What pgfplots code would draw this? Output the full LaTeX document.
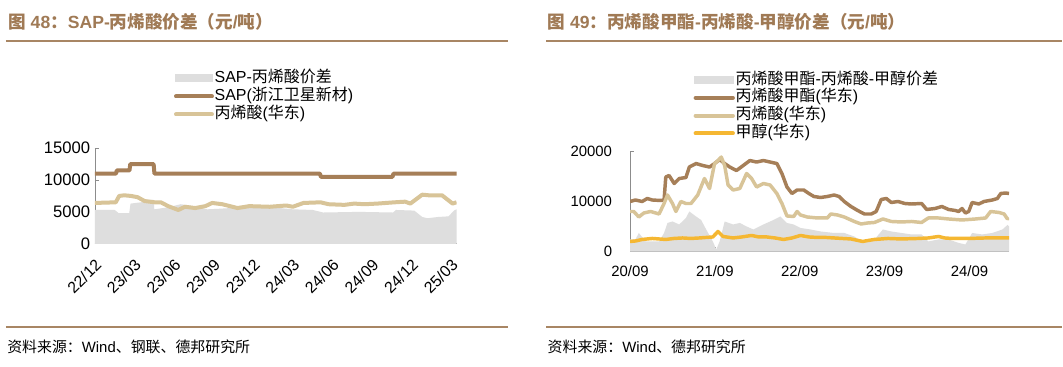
\documentclass[border=0pt]{standalone}
\usepackage{pgfplots}
\pgfplotsset{compat=1.18}
\usepackage{fontspec}
\setmainfont{Liberation Sans}
\newfontfamily\cjk{Noto Sans CJK SC}
\definecolor{darkb}{RGB}{166,127,88}
\definecolor{lightb}{RGB}{216,196,152}
\definecolor{meth}{RGB}{245,183,50}
\definecolor{areag}{RGB}{222,222,222}
\definecolor{titlec}{RGB}{160,122,85}
\definecolor{rulec}{RGB}{168,134,100}
\definecolor{axisg}{RGB}{140,140,140}

\pgfplotstableread{
x y
0 11000
1.60 11000
1.66 11500
2.62 11500
2.68 12500
4.45 12500
4.51 11000
17.05 11000
17.12 10500
22.55 10500
22.62 11000
27.4 11000
}\sap

\pgfplotstableread{
x y
0 6400
1.58 6500
1.84 7500
2.22 7600
2.73 7500
3.24 7300
3.76 6700
4.53 6500
5.0 6500
5.55 5900
6.32 5300
6.83 5800
7.6 5600
8.37 5900
8.88 6400
9.65 6200
10.8 5600
11.7 5900
13.24 5800
14.5 6000
15.0 5800
15.8 6400
17.1 6500
17.7 6200
18.9 6100
19.65 6300
20.4 6200
21.4 6300
22.7 6500
23.5 6600
23.9 6300
24.8 7700
25.3 7600
26.3 7600
27.1 6300
27.4 6500
}\aaleft

\pgfplotstableread{
x y
0 5300
1.5 5300
1.8 4800
2.6 4800
2.7 6300
3.5 6500
4.0 6900
4.45 6900
4.5 5400
5.5 5700
6.5 6200
7.5 5900
8.5 5400
9.5 5500
11 5700
12.5 5700
13.5 5700
15 5400
16.5 5300
17.1 5000
17.3 4900
20 5000
22.6 4900
22.8 5300
24.2 5200
24.8 4200
25.2 4000
26 4200
26.8 4300
27.2 5200
27.4 5400
}\spleft

\pgfplotstableread{
x y
0 10000
0.76 10300
1.71 10000
2.43 10600
3.14 10300
4.33 10200
4.81 10300
5.05 14900
5.52 15200
6.24 13600
6.95 14600
7.90 14800
8.38 16900
9.33 17600
10.29 17200
11.24 16900
11.95 17600
12.67 18400
13.38 17600
14.10 16900
15.05 16200
16.0 17200
16.95 18200
17.90 17900
18.86 18200
19.81 17900
20.76 17600
21.48 15600
22.19 12900
22.90 11600
23.62 12300
24.57 12300
25.29 11600
26.0 11000
26.95 10800
27.90 11000
28.86 11300
29.57 11000
30.29 10000
31.24 9000
32.19 8200
33.14 7500
34.10 7500
34.81 8000
35.52 10400
36.24 10600
36.95 9800
37.90 10000
38.86 9600
39.81 9500
41.24 9600
41.95 8400
43.14 8600
44.10 9000
45.05 8400
46.0 8200
46.48 8000
46.95 8600
47.43 7700
47.90 8000
48.38 9800
49.33 9500
50.05 10000
51.24 10300
51.95 10600
52.43 11600
53.14 11700
53.6 11600
}\ma

\pgfplotstableread{
x y
0 8000
0.52 8000
1.24 6900
1.95 7700
2.90 8000
4.10 7500
4.81 9600
5.29 11300
6.0 9600
6.48 8000
7.19 10000
7.90 9600
8.62 9600
9.57 11300
10.52 14600
11.24 12600
11.95 17600
12.43 18200
12.90 18900
13.38 17200
13.86 13300
14.57 12300
15.52 12600
16.48 15600
17.19 14600
17.90 12900
18.86 13600
19.81 13300
20.76 11600
21.48 9600
22.19 7100
23.14 7000
23.62 8000
24.10 7300
25.05 6900
26.48 6700
27.90 6700
28.38 7500
29.33 7300
30.29 6900
31.71 6000
32.67 5500
33.62 5700
34.57 5800
35.76 6500
36.95 6000
38.38 5900
39.81 6000
41.24 5800
42.19 6700
43.62 6700
45.05 6500
46.95 6300
48.86 6500
50.29 6700
51.0 8000
52.19 7800
52.90 7500
53.38 6500
53.6 6700
}\aaright

\pgfplotstableread{
x y
0 2000
0.8 2100
1.71 2400
3.14 2600
5.05 2400
6.2 2600
7.43 2700
8.6 2600
9.81 2700
11.71 2900
12.43 4000
13.14 3000
14.57 2700
15.8 2900
17.19 3200
18.2 2900
19.33 2900
20.5 2700
21.71 2400
22.9 2700
24.10 3200
25.3 2900
26.48 2800
27.7 2800
28.86 2700
30.0 2600
31.24 2500
32.90 2000
33.7 2200
34.57 2400
36.48 2600
38.38 2500
40.76 2600
42.2 2700
43.62 3000
44.5 2700
45.52 2600
47.90 2600
50.29 2700
52.0 2700
53.6 2700
}\methanol

\pgfplotstableread{
x y
0 2400
0.76 2400
1.24 3700
2.19 2000
4.10 2000
4.81 3700
5.29 5700
6.0 6000
6.95 5400
7.90 6700
8.38 8000
9.33 7000
10.05 6300
10.76 4400
11.71 2000
12.19 400
12.67 2000
13.38 6000
14.57 5400
15.52 5700
16.48 5000
17.43 4400
18.86 5400
20.29 6300
21.24 7000
22.19 5700
23.14 5400
24.10 4700
25.52 4400
26.95 4000
28.86 3700
30.29 3700
31.71 3000
33.14 1700
34.57 2400
35.76 4400
36.95 4000
38.38 3700
39.81 3400
41.24 3400
42.19 2000
43.62 2400
45.05 2400
46.48 1700
47.43 1400
48.38 3700
49.81 3400
51.24 3700
52.67 4400
53.38 5300
53.6 5000
}\spright

\begin{document}
\begin{tikzpicture}
\begin{scope}[x=0.75pt,y=-0.75pt]
\fill[white] (0,0) rectangle (1063,367);
% titles
\node[anchor=west, text=titlec, font=\bfseries\fontsize{13.2}{15}\selectfont, inner sep=0pt] at (8,22)
  {{\cjk\bfseries 图} 48{\cjk\bfseries ：}SAP-{\cjk\bfseries 丙烯酸价差（元}/{\cjk\bfseries 吨）}};
\node[anchor=west, text=titlec, font=\bfseries\fontsize{13.2}{15}\selectfont, inner sep=0pt] at (548,22)
  {{\cjk\bfseries 图} 49{\cjk\bfseries ：丙烯酸甲酯}-{\cjk\bfseries 丙烯酸}-{\cjk\bfseries 甲醇价差（元}/{\cjk\bfseries 吨）}};
\draw[rulec, line width=1.6pt] (6,41) -- (509,41);
\draw[rulec, line width=1.6pt] (547,41) -- (1063,41);
\draw[rulec, line width=1.6pt] (6,327) -- (509,327);
\draw[rulec, line width=1.6pt] (547,327) -- (1063,327);
% sources
\node[anchor=west, font=\fontsize{11.2}{13}\selectfont, inner sep=0pt] at (7,347)
  {{\cjk 资料来源：}Wind{\cjk 、钢联、德邦研究所}};
\node[anchor=west, font=\fontsize{11.2}{13}\selectfont, inner sep=0pt] at (548,347)
  {{\cjk 资料来源：}Wind{\cjk 、德邦研究所}};
\end{scope}

% ---------- left chart ----------
\begin{axis}[
  at={(95*0.75pt,-244*0.75pt)}, anchor=south west,
  scale only axis, width=271.5pt, height=71.8pt,
  xmin=0, xmax=27.4, ymin=0, ymax=15000,
  axis x line*=bottom, axis y line*=left,
  axis line style={draw=axisg, -},
  tick style={draw=axisg, line width=0.6pt},
  major tick length=3pt,
  xtick={0,3,...,27},
  xticklabels={22/12,23/03,23/06,23/09,23/12,24/03,24/06,24/09,24/12,25/03},
  ytick={0,5000,10000,15000},
  scaled y ticks=false,
  yticklabels={0,5000,10000,15000},
  yticklabel style={font=\fontsize{12.5}{14}\selectfont},
  xticklabel style={font=\fontsize{12}{14}\selectfont, anchor=north east, inner sep=0pt, xshift=-0.5pt, yshift=-10.5pt, rotate=45},
  legend cell align=left,
  legend style={at={(axis description cs:0.218,1.822)}, anchor=north west, draw=none, fill=none,
    inner sep=0pt, row sep=0.5pt, font=\fontsize{12}{14}\selectfont,
    nodes={inner sep=0.5pt, text height=9pt, text depth=3pt}},
]
\addplot[draw=none, fill=areag,
  legend image code/.code={\fill[areag] (0pt,-3pt) rectangle (29pt,3pt);}] table {\spleft} \closedcycle;
\addlegendentry{SAP-{\cjk 丙烯酸价差}}
\addplot[darkb, line width=3pt, line join=round,
  legend image code/.code={\draw[darkb, line width=3pt, line cap=round] (1pt,0pt) -- (28pt,0pt);}] table {\sap};
\addlegendentry{SAP({\cjk 浙江卫星新材})}
\addplot[lightb, line width=3pt, line join=round,
  legend image code/.code={\draw[lightb, line width=3pt, line cap=round] (1pt,0pt) -- (28pt,0pt);}] table {\aaleft};
\addlegendentry{{\cjk 丙烯酸}({\cjk 华东})}
\end{axis}

% ---------- right chart ----------
\begin{axis}[
  at={(630.7*0.75pt,-251.7*0.75pt)}, anchor=south west,
  scale only axis, width=284.5pt, height=75pt,
  xmin=0, xmax=53.6, ymin=0, ymax=20000,
  axis x line*=bottom, axis y line*=left,
  x axis line style={draw=gray!60, line width=1.2pt, -},
  y axis line style={draw=axisg, -},
  tick style={draw=axisg, line width=0.6pt},
  major tick length=3pt,
  xtick={0,12,24,36,48},
  xticklabels={20/09,21/09,22/09,23/09,24/09},
  ytick={0,10000,20000},
  scaled y ticks=false,
  yticklabels={0,10000,20000},
  yticklabel style={font=\fontsize{11.2}{13}\selectfont, xshift=-10pt},
  xticklabel style={font=\fontsize{11.2}{13}\selectfont, yshift=-7.5pt},
  legend cell align=left,
  legend style={at={(axis description cs:0.167,1.804)}, anchor=north west, draw=none, fill=none,
    inner sep=0pt, row sep=0.3pt, font=\fontsize{12}{14}\selectfont,
    nodes={inner sep=0.5pt, text height=9pt, text depth=3pt}},
]
\addplot[draw=none, fill=areag,
  legend image code/.code={\fill[areag] (0pt,-3pt) rectangle (30pt,3pt);}] table {\spright} \closedcycle;
\addlegendentry{{\cjk 丙烯酸甲酯}-{\cjk 丙烯酸}-{\cjk 甲醇价差}}
\addplot[darkb, line width=2.6pt, line join=round,
  legend image code/.code={\draw[darkb, line width=3pt, line cap=round] (1pt,0pt) -- (29pt,0pt);}] table {\ma};
\addlegendentry{{\cjk 丙烯酸甲酯}({\cjk 华东})}
\addplot[lightb, line width=2.6pt, line join=round,
  legend image code/.code={\draw[lightb, line width=3pt, line cap=round] (1pt,0pt) -- (29pt,0pt);}] table {\aaright};
\addlegendentry{{\cjk 丙烯酸}({\cjk 华东})}
\addplot[meth, line width=2.6pt, line join=round,
  legend image code/.code={\draw[meth, line width=3pt, line cap=round] (1pt,0pt) -- (29pt,0pt);}] table {\methanol};
\addlegendentry{{\cjk 甲醇}({\cjk 华东})}
\end{axis}
\end{tikzpicture}
\end{document}
